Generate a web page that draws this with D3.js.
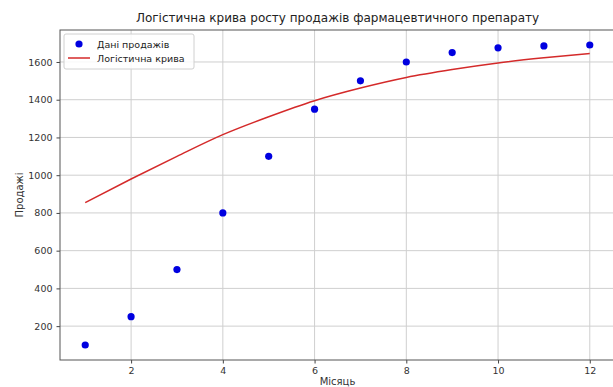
<!DOCTYPE html>
<html><head><meta charset="utf-8">
<script src="https://cdn.jsdelivr.net/npm/d3@7"></script>
<style>body{margin:0;background:#fff}svg{display:block;font-family:"DejaVu Sans",sans-serif}</style>
</head><body><svg id="c" width="613" height="387"></svg>
<script>
const months = [1,2,3,4,5,6,7,8,9,10,11,12];
const sales = [100,250,500,800,1100,1350,1500,1600,1650,1675,1685,1690];
const curveVals = [855,980,1100,1215,1310,1395,1462,1518,1560,1595,1622,1645];
const xTicks = [2,4,6,8,10,12];
const yTicks = [200,400,600,800,1000,1200,1400,1600];
const title = "Логістична крива росту продажів фармацевтичного препарату";
const xLabel = "Місяць", yLabel = "Продажі";
const legendLabels = ["Дані продажів","Логістична крива"];

const svg = d3.select("#c");
const L=60, R=615, T=30, B=360;
const x = d3.scaleLinear().domain([0.45,12.55]).range([L,R]);
const y = d3.scaleLinear().domain([20.5,1769.5]).range([B,T]);

// grid
const g = svg.append("g");
g.selectAll(".gx").data(xTicks).join("line").attr("x1",d=>x(d)).attr("x2",d=>x(d)).attr("y1",T).attr("y2",B).attr("stroke","#cfcfcf").attr("stroke-width",1);
g.selectAll(".gy").data(yTicks).join("line").attr("y1",d=>y(d)).attr("y2",d=>y(d)).attr("x1",L).attr("x2",R).attr("stroke","#cfcfcf").attr("stroke-width",1);

// axes
const fmt = d3.format("d");
const xa = svg.append("g").attr("transform",`translate(0,${B})`).call(d3.axisBottom(x).tickValues(xTicks).tickFormat(fmt).tickSize(3.5).tickPadding(4).tickSizeOuter(0));
const ya = svg.append("g").attr("transform",`translate(${L},0)`).call(d3.axisLeft(y).tickValues(yTicks).tickFormat(fmt).tickSize(3.5).tickPadding(4).tickSizeOuter(0));
[xa,ya].forEach(a=>{a.select(".domain").remove();a.selectAll("line").attr("stroke","#444");a.selectAll("text").attr("font-size",9.5).attr("fill","#333").attr("font-family","DejaVu Sans");});

// frame
svg.append("rect").attr("x",L).attr("y",T).attr("width",R-L).attr("height",B-T).attr("fill","none").attr("stroke","#555").attr("stroke-width",1);

// curve
svg.append("path").datum(months.map((m,i)=>[m,curveVals[i]]))
  .attr("d",d3.line().x(d=>x(d[0])).y(d=>y(d[1])).curve(d3.curveMonotoneX))
  .attr("fill","none").attr("stroke","#d42a2a").attr("stroke-width",1.5);

// points
svg.selectAll(".pt").data(months.map((m,i)=>[m,sales[i]])).join("circle")
  .attr("cx",d=>x(d[0])).attr("cy",d=>y(d[1])).attr("r",3.6).attr("fill","#0000e0");

// title and labels
svg.append("text").attr("x",(L+R)/2).attr("y",22).attr("text-anchor","middle").attr("font-size",12).attr("fill","#222").text(title);
svg.append("text").attr("x",(L+R)/2).attr("y",385).attr("text-anchor","middle").attr("font-size",10).attr("fill","#333").text(xLabel);
svg.append("text").attr("transform","translate(23,195) rotate(-90)").attr("text-anchor","middle").attr("font-size",10).attr("fill","#333").text(yLabel);

// legend
const lg = svg.append("g");
lg.append("rect").attr("x",64).attr("y",34).attr("width",130).attr("height",35).attr("rx",2).attr("fill","#fff").attr("fill-opacity",0.85).attr("stroke","#d0d0d0");
lg.append("circle").attr("cx",79).attr("cy",44).attr("r",3.6).attr("fill","#0000e0");
lg.append("line").attr("x1",68).attr("x2",90).attr("y1",58).attr("y2",58).attr("stroke","#d42a2a").attr("stroke-width",1.5);
lg.append("text").attr("x",97).attr("y",47.5).attr("font-size",9.5).attr("fill","#222").text(legendLabels[0]);
lg.append("text").attr("x",97).attr("y",61.5).attr("font-size",9.5).attr("fill","#222").text(legendLabels[1]);
</script></body></html>
